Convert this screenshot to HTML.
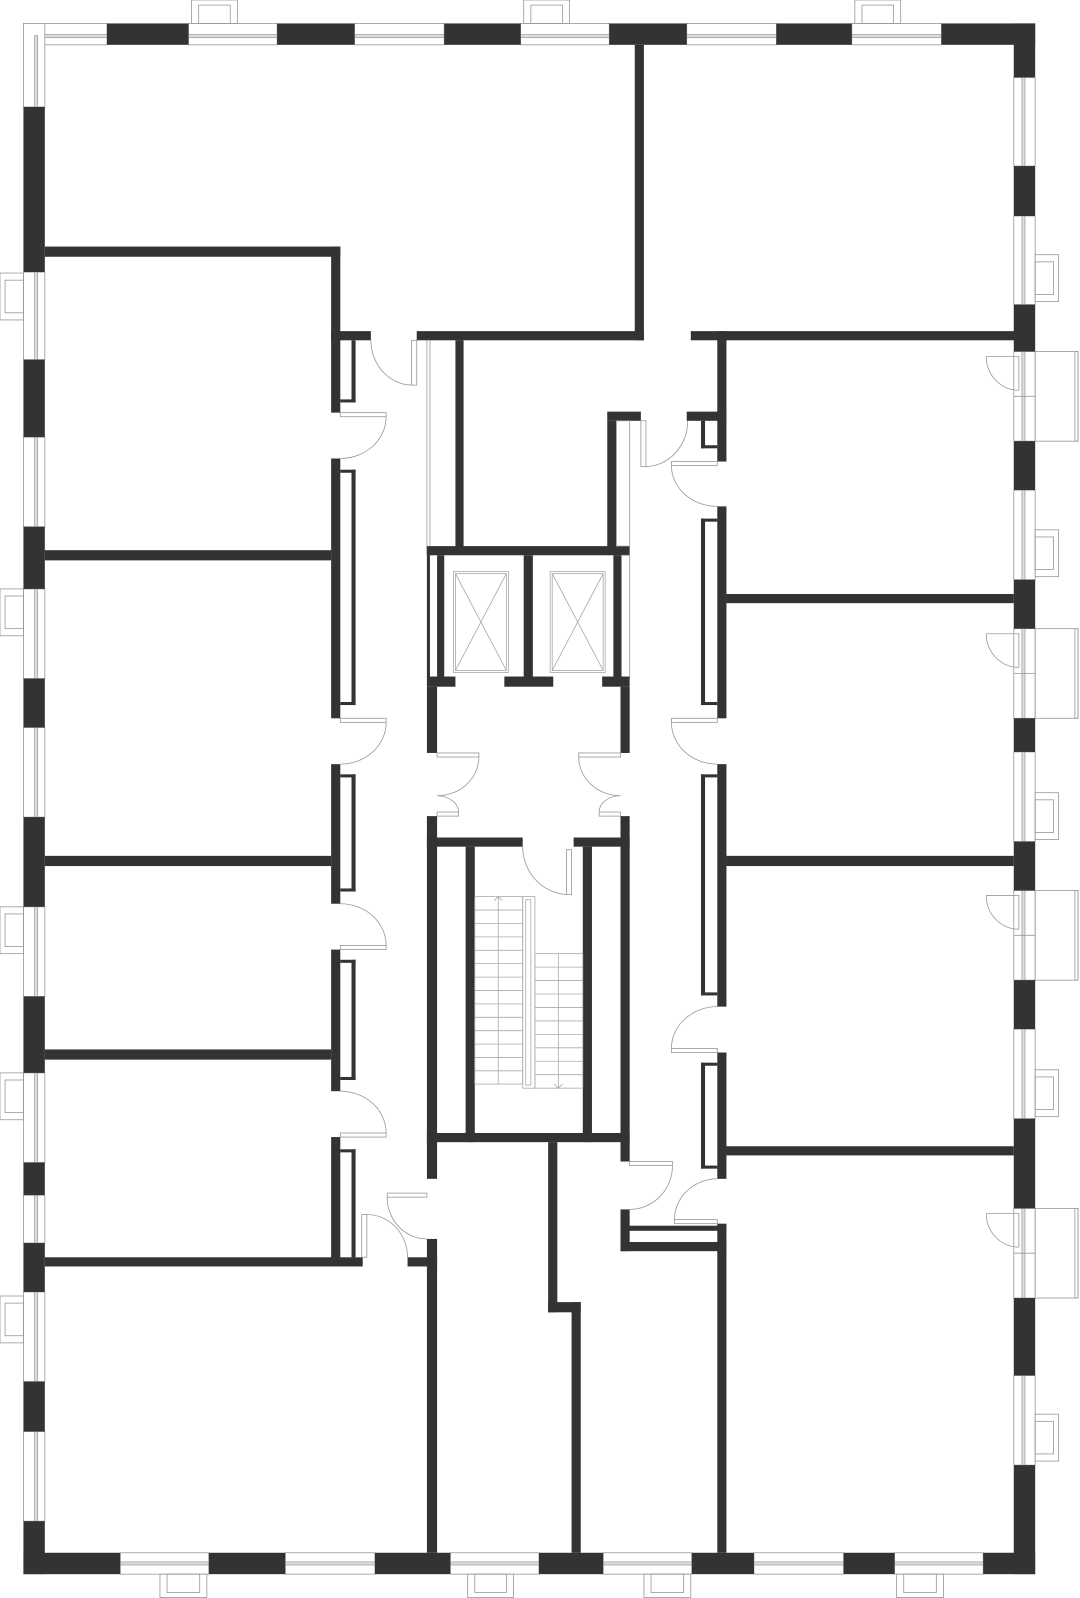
<!DOCTYPE html>
<html><head><meta charset="utf-8"><style>
html,body{margin:0;padding:0;background:#fff}
svg{display:block}
.w{fill:#333}
.win{fill:#fff;stroke:#999;stroke-width:0.8}
.gl{fill:#ddd;stroke:#999;stroke-width:0.7}
.ln{fill:none;stroke:#999;stroke-width:0.8}
.dr{fill:#fff;stroke:#999;stroke-width:0.8}
.st{fill:none;stroke:#aaa;stroke-width:0.8}
</style></head><body>
<svg width="1080" height="1598" viewBox="0 0 1060 1568.4" preserveAspectRatio="none" xmlns="http://www.w3.org/2000/svg">
<!-- top windows -->
<g>
<rect class="win" x="23" y="23" width="82" height="21"/><rect class="gl" x="35" y="34" width="70" height="3"/>
<rect class="win" x="23" y="23" width="21" height="82"/><rect class="gl" x="34" y="35" width="3" height="70"/>
<rect class="win" x="185" y="23" width="87" height="21"/><rect class="gl" x="185" y="34" width="87" height="3"/>
<rect class="win" x="348" y="23" width="88" height="21"/><rect class="gl" x="348" y="34" width="88" height="3"/>
<rect class="win" x="511" y="23" width="87" height="21"/><rect class="gl" x="511" y="34" width="87" height="3"/>
<rect class="win" x="674" y="23" width="88" height="21"/><rect class="gl" x="674" y="34" width="88" height="3"/>
<rect class="win" x="836" y="23" width="88" height="21"/><rect class="gl" x="836" y="34" width="88" height="3"/>
<rect class="ln" x="188" y="0" width="45" height="23"/><rect class="ln" x="195" y="5" width="31" height="18"/>
<rect class="ln" x="514" y="0" width="45" height="23"/><rect class="ln" x="521" y="5" width="31" height="18"/>
<rect class="ln" x="839" y="0" width="45" height="23"/><rect class="ln" x="846" y="5" width="31" height="18"/>
</g>
<rect class="w" x="105" y="23" width="80" height="21"/>
<rect class="w" x="272" y="23" width="76" height="21"/>
<rect class="w" x="436" y="23" width="75" height="21"/>
<rect class="w" x="598" y="23" width="76" height="21"/>
<rect class="w" x="762" y="23" width="74" height="21"/>
<rect class="w" x="924" y="23" width="92" height="21"/>
<!-- left wall -->
<g>
<rect class="win" x="23" y="267" width="21" height="86"/><rect class="gl" x="34" y="267" width="3" height="86"/>
<rect class="win" x="23" y="429" width="21" height="88"/><rect class="gl" x="34" y="429" width="3" height="88"/>
<rect class="win" x="23" y="578" width="21" height="88"/><rect class="gl" x="34" y="578" width="3" height="88"/>
<rect class="win" x="23" y="714" width="21" height="88"/><rect class="gl" x="34" y="714" width="3" height="88"/>
<rect class="win" x="23" y="890" width="21" height="88"/><rect class="gl" x="34" y="890" width="3" height="88"/>
<rect class="win" x="23" y="1053" width="21" height="88"/><rect class="gl" x="34" y="1053" width="3" height="88"/>
<rect class="win" x="23" y="1173" width="21" height="47"/><rect class="gl" x="34" y="1173" width="3" height="47"/>
<rect class="win" x="23" y="1268" width="21" height="88"/><rect class="gl" x="34" y="1268" width="3" height="88"/>
<rect class="win" x="23" y="1405" width="21" height="88"/><rect class="gl" x="34" y="1405" width="3" height="88"/>
<rect class="ln" x="0" y="268" width="23" height="46"/><rect class="ln" x="5" y="275" width="18" height="32"/>
<rect class="ln" x="0" y="578" width="23" height="46"/><rect class="ln" x="5" y="585" width="18" height="32"/>
<rect class="ln" x="0" y="890" width="23" height="46"/><rect class="ln" x="5" y="897" width="18" height="32"/>
<rect class="ln" x="0" y="1053" width="23" height="46"/><rect class="ln" x="5" y="1060" width="18" height="32"/>
<rect class="ln" x="0" y="1272" width="23" height="46"/><rect class="ln" x="5" y="1279" width="18" height="32"/>
</g>
<rect class="w" x="23" y="105" width="21" height="162"/>
<rect class="w" x="23" y="353" width="21" height="76"/>
<rect class="w" x="23" y="517" width="21" height="61"/>
<rect class="w" x="23" y="666" width="21" height="48"/>
<rect class="w" x="23" y="802" width="21" height="88"/>
<rect class="w" x="23" y="978" width="21" height="75"/>
<rect class="w" x="23" y="1141" width="21" height="32"/>
<rect class="w" x="23" y="1220" width="21" height="48"/>
<rect class="w" x="23" y="1356" width="21" height="49"/>
<rect class="w" x="23" y="1493" width="21" height="52"/>
<!-- right wall -->
<g>
<rect class="win" x="995" y="76" width="21" height="87"/><rect class="gl" x="1003" y="76" width="3" height="87"/>
<rect class="win" x="995" y="212" width="21" height="87"/><rect class="gl" x="1003" y="212" width="3" height="87"/>
<rect class="win" x="995" y="345" width="21" height="88"/><rect class="gl" x="1003" y="345" width="3" height="88"/><line class="ln" x1="995" y1="389" x2="1016" y2="389"/>
<rect class="win" x="995" y="481" width="21" height="88"/><rect class="gl" x="1003" y="481" width="3" height="88"/>
<rect class="win" x="995" y="617" width="21" height="88"/><rect class="gl" x="1003" y="617" width="3" height="88"/><line class="ln" x1="995" y1="661" x2="1016" y2="661"/>
<rect class="win" x="995" y="738" width="21" height="88"/><rect class="gl" x="1003" y="738" width="3" height="88"/>
<rect class="win" x="995" y="874" width="21" height="88"/><rect class="gl" x="1003" y="874" width="3" height="88"/><line class="ln" x1="995" y1="918" x2="1016" y2="918"/>
<rect class="win" x="995" y="1010" width="21" height="88"/><rect class="gl" x="1003" y="1010" width="3" height="88"/>
<rect class="win" x="995" y="1186" width="21" height="88"/><rect class="gl" x="1003" y="1186" width="3" height="88"/><line class="ln" x1="995" y1="1230" x2="1016" y2="1230"/>
<rect class="win" x="995" y="1350" width="21" height="88"/><rect class="gl" x="1003" y="1350" width="3" height="88"/>
<rect class="ln" x="1016" y="345" width="42" height="88"/><rect class="ln" x="1055" y="345" width="3" height="88"/>
<rect class="ln" x="1016" y="617" width="42" height="88"/><rect class="ln" x="1055" y="617" width="3" height="88"/>
<rect class="ln" x="1016" y="874" width="42" height="88"/><rect class="ln" x="1055" y="874" width="3" height="88"/>
<rect class="ln" x="1016" y="1186" width="42" height="88"/><rect class="ln" x="1055" y="1186" width="3" height="88"/>
<rect class="ln" x="1016" y="250" width="23" height="46"/><rect class="ln" x="1016" y="257" width="18" height="32"/>
<rect class="ln" x="1016" y="520" width="23" height="46"/><rect class="ln" x="1016" y="527" width="18" height="32"/>
<rect class="ln" x="1016" y="778" width="23" height="46"/><rect class="ln" x="1016" y="785" width="18" height="32"/>
<rect class="ln" x="1016" y="1050" width="23" height="46"/><rect class="ln" x="1016" y="1057" width="18" height="32"/>
<rect class="ln" x="1016" y="1388" width="23" height="46"/><rect class="ln" x="1016" y="1395" width="18" height="32"/>
<!-- balcony doors -->
<path class="ln" d="M968 350 H1000 V383 M968 350 A32 33 0 0 0 1000 383"/>
<path class="ln" d="M968 622 H1000 V655 M968 622 A32 33 0 0 0 1000 655"/>
<path class="ln" d="M968 879 H1000 V912 M968 879 A32 33 0 0 0 1000 912"/>
<path class="ln" d="M968 1191 H1000 V1224 M968 1191 A32 33 0 0 0 1000 1224"/>
</g>
<rect class="w" x="995" y="23" width="21" height="53"/>
<rect class="w" x="995" y="163" width="21" height="49"/>
<rect class="w" x="995" y="299" width="21" height="46"/>
<rect class="w" x="995" y="433" width="21" height="48"/>
<rect class="w" x="995" y="569" width="21" height="48"/>
<rect class="w" x="995" y="705" width="21" height="33"/>
<rect class="w" x="995" y="826" width="21" height="48"/>
<rect class="w" x="995" y="962" width="21" height="48"/>
<rect class="w" x="995" y="1098" width="21" height="88"/>
<rect class="w" x="995" y="1274" width="21" height="76"/>
<rect class="w" x="995" y="1438" width="21" height="107"/>
<!-- bottom wall -->
<g>
<rect class="win" x="118" y="1524" width="87" height="21"/><rect class="gl" x="118" y="1533" width="87" height="3"/>
<rect class="win" x="280" y="1524" width="88" height="21"/><rect class="gl" x="280" y="1533" width="88" height="3"/>
<rect class="win" x="442" y="1524" width="87" height="21"/><rect class="gl" x="442" y="1533" width="87" height="3"/>
<rect class="win" x="592" y="1524" width="87" height="21"/><rect class="gl" x="592" y="1533" width="87" height="3"/>
<rect class="win" x="740" y="1524" width="88" height="21"/><rect class="gl" x="740" y="1533" width="88" height="3"/>
<rect class="win" x="878" y="1524" width="87" height="21"/><rect class="gl" x="878" y="1533" width="87" height="3"/>
<rect class="ln" x="157" y="1545" width="46" height="23"/><rect class="ln" x="164" y="1545" width="32" height="18"/>
<rect class="ln" x="459" y="1545" width="45" height="23"/><rect class="ln" x="466" y="1545" width="31" height="18"/>
<rect class="ln" x="632" y="1545" width="46" height="23"/><rect class="ln" x="639" y="1545" width="32" height="18"/>
<rect class="ln" x="880" y="1545" width="46" height="23"/><rect class="ln" x="887" y="1545" width="32" height="18"/>
</g>
<rect class="w" x="23" y="1524" width="95" height="21"/>
<rect class="w" x="205" y="1524" width="75" height="21"/>
<rect class="w" x="368" y="1524" width="74" height="21"/>
<rect class="w" x="529" y="1524" width="63" height="21"/>
<rect class="w" x="679" y="1524" width="61" height="21"/>
<rect class="w" x="828" y="1524" width="50" height="21"/>
<rect class="w" x="965" y="1524" width="51" height="21"/>

<!-- left apartments interior -->
<rect class="w" x="44" y="242" width="290" height="10"/>
<rect class="w" x="325" y="242" width="9" height="163"/>
<rect class="w" x="325" y="325" width="39" height="9"/>
<rect class="w" x="345" y="334" width="4" height="61"/><rect class="w" x="334" y="392" width="15" height="3"/>
<rect class="w" x="325" y="450" width="9" height="255"/>
<rect class="w" x="334" y="461" width="15" height="3"/><rect class="w" x="345" y="461" width="4" height="231"/><rect class="w" x="334" y="689" width="15" height="3"/>
<rect class="w" x="44" y="540" width="281" height="10"/>
<rect class="w" x="325" y="750" width="9" height="137"/>
<rect class="w" x="334" y="760" width="15" height="3"/><rect class="w" x="345" y="760" width="4" height="115"/><rect class="w" x="334" y="872" width="15" height="3"/>
<rect class="w" x="44" y="840" width="281" height="10"/>
<rect class="w" x="325" y="932" width="9" height="139"/>
<rect class="w" x="334" y="942" width="15" height="3"/><rect class="w" x="345" y="942" width="4" height="118"/><rect class="w" x="334" y="1057" width="15" height="3"/>
<rect class="w" x="44" y="1030" width="281" height="10"/>
<rect class="w" x="325" y="1116" width="9" height="124"/>
<rect class="w" x="334" y="1128" width="15" height="3"/><rect class="w" x="345" y="1128" width="4" height="106"/>
<rect class="w" x="44" y="1234" width="312" height="9"/>
<rect class="w" x="400" y="1234" width="29" height="9"/>
<!-- left doors -->
<path class="ln" d="M364 334 A41 44 0 0 0 405 378"/><rect class="dr" x="404" y="334" width="5" height="44"/>
<rect class="dr" x="334" y="405" width="45" height="4"/><path class="ln" d="M379 409 A45 41 0 0 1 334 450"/>
<rect class="dr" x="334" y="705" width="45" height="4"/><path class="ln" d="M379 709 A45 41 0 0 1 334 750"/>
<path class="ln" d="M334 887 A45 41 0 0 1 379 928"/><rect class="dr" x="334" y="928" width="45" height="4"/>
<path class="ln" d="M334 1071 A45 41 0 0 1 379 1112"/><rect class="dr" x="334" y="1112" width="45" height="4"/>
<rect class="dr" x="380" y="1171" width="39" height="4"/><path class="ln" d="M380 1175 A39 41 0 0 0 419 1216"/>
<rect class="dr" x="355" y="1192" width="5" height="42"/><path class="ln" d="M360 1192 A40 42 0 0 1 400 1234"/>

<!-- top middle -->
<rect class="w" x="409" y="325" width="223" height="9"/>
<rect class="w" x="623" y="44" width="9" height="290"/>
<rect class="w" x="678" y="325" width="322" height="9"/>
<!-- core -->
<rect class="ln" x="419" y="334" width="3" height="211"/>
<rect class="w" x="447" y="334" width="8" height="206"/>
<rect class="w" x="419" y="536" width="199" height="9"/>
<rect class="w" x="596" y="404" width="33" height="9"/>
<rect class="w" x="596" y="413" width="9" height="127"/>
<rect class="ln" x="605" y="413" width="13" height="123"/>
<rect class="w" x="419" y="545" width="3" height="120"/>
<rect class="w" x="429" y="545" width="7" height="120"/>
<rect class="w" x="514" y="545" width="9" height="120"/>
<rect class="w" x="602" y="545" width="8" height="120"/>
<rect class="ln" x="610" y="545" width="8" height="120"/>
<rect class="w" x="419" y="664" width="28" height="10"/>
<rect class="w" x="495" y="664" width="48" height="10"/>
<rect class="w" x="591" y="664" width="27" height="10"/>
<rect class="w" x="419" y="674" width="10" height="65"/>
<rect class="w" x="609" y="674" width="9" height="65"/>
<!-- lifts -->
<rect class="st" x="445" y="561" width="54" height="99"/><rect class="st" x="447" y="563" width="50" height="95"/>
<path class="st" d="M447 563 L497 658 M497 563 L447 658"/>
<rect class="st" x="540" y="561" width="54" height="99"/><rect class="st" x="542" y="563" width="50" height="95"/>
<path class="st" d="M542 563 L592 658 M592 563 L542 658"/>
<!-- lobby double doors -->
<rect class="dr" x="429" y="739" width="41" height="4"/><path class="ln" d="M470 743 A41 38 0 0 1 429 781"/>
<rect class="dr" x="429" y="797" width="21" height="4"/><path class="ln" d="M429 781 A21 16 0 0 1 450 797"/>
<rect class="dr" x="568" y="739" width="41" height="4"/><path class="ln" d="M568 743 A41 38 0 0 0 609 781"/>
<rect class="dr" x="588" y="797" width="21" height="4"/><path class="ln" d="M609 781 A21 16 0 0 0 588 797"/>
<!-- stair -->
<rect class="w" x="419" y="801" width="10" height="356"/>
<rect class="w" x="609" y="801" width="9" height="339"/>
<rect class="w" x="419" y="822" width="94" height="9"/>
<rect class="w" x="563" y="822" width="55" height="9"/>
<path class="ln" d="M513 831 A46 47 0 0 0 556 878"/><rect class="dr" x="556" y="834" width="5" height="44"/>
<rect class="w" x="457" y="831" width="9" height="290"/>
<rect class="w" x="572" y="831" width="9" height="290"/>
<rect class="w" x="419" y="1112" width="199" height="9"/>
<g class="st">
<rect x="466" y="880" width="47" height="184"/>
<line x1="489" y1="880" x2="489" y2="1064"/>
<path d="M466 893.2H513M466 906.4H513M466 919.5H513M466 932.7H513M466 945.8H513M466 959H513M466 972.1H513M466 985.3H513M466 998.5H513M466 1011.6H513M466 1024.8H513M466 1038H513M466 1051H513"/>
<path d="M485 884 L489 880 L493 884"/>
<rect x="513" y="880" width="12" height="188"/><rect x="516" y="883" width="5" height="182"/>
<rect x="525" y="936" width="47" height="132"/>
<line x1="548" y1="936" x2="548" y2="1068"/>
<path d="M525 949.2H572M525 962.4H572M525 975.6H572M525 988.8H572M525 1002H572M525 1015.2H572M525 1028.4H572M525 1041.6H572M525 1054.8H572"/>
<path d="M544 1064 L548 1068 L552 1064"/>
</g>
<!-- bottom middle -->
<rect class="w" x="419" y="1216" width="10" height="308"/>
<rect class="w" x="538" y="1121" width="9" height="167"/>
<rect class="w" x="538" y="1278" width="32" height="10"/>
<rect class="w" x="561" y="1278" width="9" height="246"/>
<rect class="dr" x="618" y="1140" width="42" height="4"/><path class="ln" d="M660 1144 A42 43 0 0 1 618 1187"/>
<rect class="w" x="609" y="1187" width="9" height="41"/>
<rect class="w" x="609" y="1203" width="104" height="5"/>
<rect class="w" x="609" y="1219" width="104" height="9"/>
<!-- right side -->
<path class="ln" d="M675 413 A42 45 0 0 1 633 458"/><rect class="dr" x="629" y="413" width="5" height="45"/>
<rect class="w" x="674" y="404" width="39" height="9"/>
<rect class="w" x="704" y="325" width="9" height="128"/>
<rect class="w" x="688" y="413" width="4" height="27"/><rect class="w" x="688" y="437" width="16" height="3"/>
<rect class="dr" x="659" y="453" width="45" height="4"/><path class="ln" d="M659 457 A45 40 0 0 0 704 497"/>
<rect class="w" x="704" y="497" width="9" height="208"/>
<rect class="w" x="688" y="509" width="16" height="3"/><rect class="w" x="688" y="509" width="4" height="183"/><rect class="w" x="688" y="689" width="16" height="3"/>
<rect class="w" x="713" y="583" width="282" height="9"/>
<rect class="dr" x="659" y="705" width="45" height="4"/><path class="ln" d="M659 709 A45 41 0 0 0 704 750"/>
<rect class="w" x="704" y="750" width="9" height="238"/>
<rect class="w" x="688" y="760" width="16" height="3"/><rect class="w" x="688" y="760" width="4" height="217"/><rect class="w" x="688" y="974" width="16" height="3"/>
<rect class="w" x="713" y="840" width="282" height="10"/>
<path class="ln" d="M704 988 A45 41 0 0 0 659 1029"/><rect class="dr" x="659" y="1029" width="45" height="4"/>
<rect class="w" x="704" y="1033" width="9" height="124"/>
<rect class="w" x="688" y="1043" width="16" height="3"/><rect class="w" x="688" y="1043" width="4" height="104"/><rect class="w" x="688" y="1144" width="16" height="3"/>
<rect class="w" x="713" y="1125" width="282" height="9"/>
<path class="ln" d="M704 1157 A42 40 0 0 0 662 1197"/><rect class="dr" x="662" y="1197" width="42" height="4"/>
<rect class="w" x="704" y="1201" width="9" height="323"/>
</svg>
</body></html>
